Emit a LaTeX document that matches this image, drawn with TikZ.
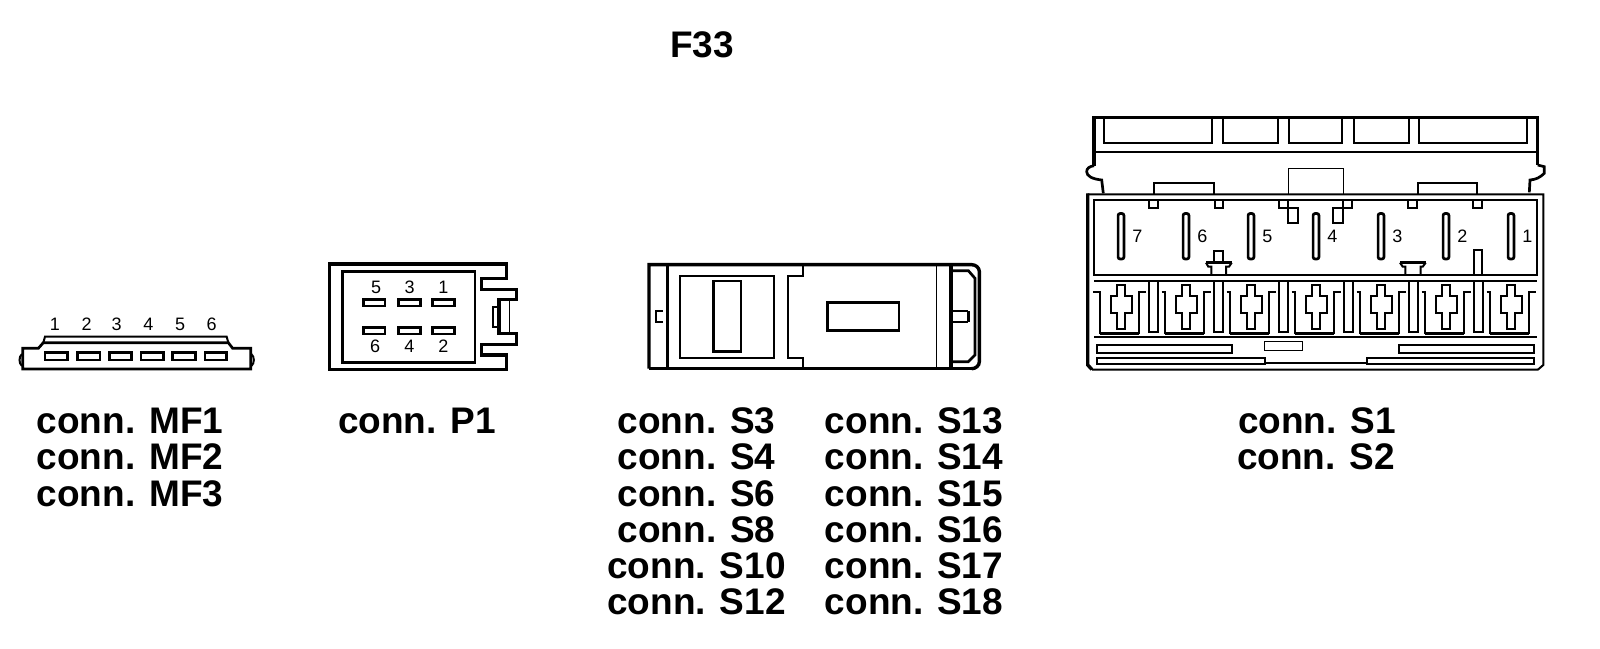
\documentclass[tikz,border=0pt]{standalone}
\usepackage{fontspec}
\setmainfont{Liberation Sans}
\tikzset{
  lonepx/.style={line width=.5pt},
  ltwopx/.style={line width=1pt},
  lthreepx/.style={line width=1.35pt},
  lfourpx/.style={line width=1.7pt},
  label/.style={inner sep=0pt,anchor=base,font=\fontsize{18.5pt}{18.5pt}\selectfont\bfseries},
  pinno/.style={inner sep=0pt,font=\fontsize{9pt}{9pt}\selectfont},
  zoomed/.style={shift={#1},x=.16667pt,y=-.16667pt},
}
\begin{document}
\begin{tikzpicture}[x=.5pt,y=-.5pt,line join=miter]
\useasboundingbox (0,0) rectangle (1600,648);

% ---------- labels ----------
\node[label] (title) at (702,57) {F33};
\node[label] (mfa) at (130,433) {conn. MF1};
\node[label] (mfb) at (130,469.5) {conn. MF2};
\node[label] (mfc) at (130,506) {conn. MF3};
\node[label] (pa) at (417,433) {conn. P1};
\node[label] (sa) at (696.5,433) {conn. S3};
\node[label] (sb) at (696.5,469.5) {conn. S4};
\node[label] (sc) at (696.5,506) {conn. S6};
\node[label] (sd) at (696.5,542) {conn. S8};
\node[label] (se) at (696.5,578.5) {conn. S10};
\node[label] (sf) at (696.5,614.5) {conn. S12};
\node[label] (ta) at (914,433) {conn. S13};
\node[label] (tb) at (914,469.5) {conn. S14};
\node[label] (tc) at (914,506) {conn. S15};
\node[label] (td) at (914,542) {conn. S16};
\node[label] (te) at (914,578.5) {conn. S17};
\node[label] (tf) at (914,614.5) {conn. S18};
\node[label] (ua) at (1317,433) {conn. S1};
\node[label] (ub) at (1316,469.5) {conn. S2};

% ---------- MF connector ----------
\begin{scope}[zoomed={(10,300)}]
  \draw[lthreepx] (38,207) -- (38,145) -- (85,145) -- (100,128) -- (655,128) -- (668,145) -- (722,145) -- (722,207) -- cycle;
  \draw[ltwopx] (100,128) -- (105,110) -- (650,110) -- (655,128);
  \draw[ltwopx] (36,162) .. controls (26,170) and (26,190) .. (36,198);
  \draw[ltwopx] (724,162) .. controls (734,170) and (734,190) .. (724,198);
  \foreach \a/\b in {105/172,202/270,298/365,393/460,488/557,585/650}
    \draw[lthreepx] (\a,158) rectangle (\b,180);
  \foreach \n/\x in {1/135,2/230,3/320,4/415,5/510,6/605}
    \node[pinno] (mf\n) at (\x,72) {\n};
\end{scope}

% ---------- P connector ----------
\begin{scope}[zoomed={(310,250)}]
  \draw[lfourpx] (58,42) -- (590,42) -- (590,85) -- (515,85) -- (515,118) -- (620,118) -- (620,148) -- (567,148) -- (567,250) -- (620,250) -- (620,283) -- (515,283) -- (515,315) -- (590,315) -- (590,358) -- (58,358) -- cycle;
  \draw[lthreepx] (98,64) rectangle (495,337);
  \draw[lonepx] (598,148) -- (598,250);
  \draw[ltwopx] (567,170) -- (548,170) -- (548,230) -- (567,230);
  \foreach \a/\b in {160/225,265/332,367/433}{
    \draw[lthreepx] (\a,148) rectangle (\b,168);
    \draw[lthreepx] (\a,232) rectangle (\b,252);
  }
  \node[pinno] (pfive) at (198,111) {5};
  \node[pinno] (pthree) at (299,111) {3};
  \node[pinno] (pone) at (400,111) {1};
  \node[pinno] (psix) at (195,290) {6};
  \node[pinno] (pfour) at (298,290) {4};
  \node[pinno] (ptwo) at (400,290) {2};
\end{scope}

% ---------- S connector ----------
\begin{scope}[zoomed={(625,250)}]
  \draw[lfourpx] (72,356) -- (72,44) -- (1040,44) .. controls (1052,44) and (1063,53) .. (1063,65) -- (1063,335) .. controls (1063,347) and (1052,356) .. (1040,356);
  \draw[lthreepx] (72,356) -- (1040,356);
  \draw[lfourpx] (127,44) -- (127,356);
  \draw[ltwopx] (113,183) -- (92,183) -- (92,217) -- (113,217);
  \draw[ltwopx] (165,77) rectangle (447,323);
  \draw[lthreepx] (265,93) rectangle (348,305);
  \draw[ltwopx] (535,44) -- (535,77) -- (490,77) -- (490,323) -- (535,323) -- (535,356);
  \draw[lthreepx] (607,158) rectangle (822,241);
  \draw[lonepx] (934,44) -- (934,356);
  \draw[lfourpx] (978,44) -- (978,356);
  \draw[lthreepx] (978,62) -- (1030,62) -- (1050,85) -- (1050,315) -- (1030,335) -- (978,335);
  \draw[ltwopx] (978,183) -- (1030,183);
  \draw[ltwopx] (978,217) -- (1030,217);
  \draw[lthreepx] (1030,183) -- (1030,217);
\end{scope}

% ---------- S1/S2 connector ----------
% upper shell
\draw[lfourpx] (1094,165.7) -- (1094,117.7) -- (1537.7,117.7) -- (1537.7,165);
\draw[lthreepx] (1094,165.7) .. controls (1089,166.5) and (1086.7,168.5) .. (1086.7,171.7) .. controls (1086.7,176) and (1092,179) .. (1101.7,180) -- (1103.3,193.3);
\draw[lthreepx] (1537.7,165) -- (1544.3,166.7) -- (1544.3,173.3) .. controls (1540,177.5) and (1536,179.5) .. (1530,180) -- (1529.3,192.3);
\draw[ltwopx] (1094,151.7) -- (1537.7,151.7);
\foreach \a/\b in {1104/1212.3,1222.7/1278.3,1288.7/1342.3,1353.7/1409.3,1418.7/1527}
  \draw[ltwopx] (\a,118) -- (\a,142.7) -- (\b,142.7) -- (\b,118);
\foreach \a/\b in {1154.3/1214,1417.7/1477.3}
  \draw[ltwopx] (\a,194.3) -- (\a,182.7) -- (\b,182.7) -- (\b,194.3);
\draw[lonepx] (1288.3,194.3) -- (1288.3,168.3) -- (1343.3,168.3) -- (1343.3,194.3);
% outer and inner frames
\draw[ltwopx] (1087.7,194.3) -- (1543.3,194.3) -- (1543.3,365) -- (1538,369.5) -- (1092,369.5);
\draw[lfourpx] (1087.7,193.4) -- (1087.7,365) -- (1092,369.5);
\draw[ltwopx] (1094.3,199.7) rectangle (1536.7,275);
\draw[ltwopx] (1094.3,280.7) -- (1536.7,280.7);
\draw[lthreepx] (1094.3,337) -- (1536.7,337);
% tabs under the frame top
\foreach \a/\b in {1149/1158.3,1214.7/1223.3,1407.7/1417,1472.7/1482.3,1279/1288.3,1343.3/1352.3}
  \draw[ltwopx] (\a,199.7) -- (\a,208.3) -- (\b,208.3) -- (\b,199.7);
\draw[ltwopx] (1288.3,199.7) -- (1288.3,222.7) -- (1298.3,222.7) -- (1298.3,208.3) -- (1288.3,208.3);
\draw[ltwopx] (1343.3,199.7) -- (1343.3,222.7) -- (1333.3,222.7) -- (1333.3,208.3) -- (1343.3,208.3);
% blades and pin numbers
\foreach \n/\x in {7/1121,6/1186,5/1251,4/1316,3/1381,2/1446,1/1511}{
  \draw[lthreepx,rounded corners=1pt] (\x-2.9,213.5) rectangle (\x+2.9,259);
  \node[pinno] (spin\n) at (\x+16.3,236) {\n};
}
% pockets with cross-shaped openings
\foreach \x in {1121,1186,1251,1316,1381,1446,1511}{
  \draw[ltwopx] (\x-24.3,291.7) -- (\x-21,291.7) -- (\x-21,333.3) -- (\x+18,333.3) -- (\x+18,291.7) -- (\x+24.7,291.7);
  \draw[lthreepx] (\x-21,333.3) -- (\x+18,333.3);
  \draw[ltwopx] (\x-3.7,285) -- (\x+3.7,285) -- (\x+3.7,296) -- (\x+10.5,296) -- (\x+10.5,313.3) -- (\x+3.7,313.3) -- (\x+3.7,329) -- (\x-3.7,329) -- (\x-3.7,313.3) -- (\x-10.5,313.3) -- (\x-10.5,296) -- (\x-3.7,296) -- cycle;
}
\draw[ltwopx] (1093.3,291.7) -- (1100,291.7);
% spacers between the pockets
\foreach \a/\b in {1149/1158.3,1214.3/1223.3,1279/1288.3,1344.3/1353.3,1409/1418.3,1474/1482.7}
  \draw[ltwopx] (\a,280.7) -- (\a,332.3) -- (\b,332.3) -- (\b,280.7);
% posts standing on the inner frame
\draw[ltwopx] (1214.3,250.7) rectangle (1223.3,262.7);
\draw[ltwopx] (1211.3,275) -- (1211.3,266.7) -- (1208.3,266.7) -- (1206,262.7);
\draw[ltwopx] (1226,275) -- (1226,266.7) -- (1229,266.7) -- (1231.7,262.7);
\draw[lthreepx] (1206,262.7) -- (1231.7,262.7);
\draw[ltwopx] (1405.3,275) -- (1405.3,266.7) -- (1402.7,266.7) -- (1400,262.7);
\draw[ltwopx] (1420.7,275) -- (1420.7,266.7) -- (1422.7,266.7) -- (1425.7,262.7);
\draw[lthreepx] (1400,262.7) -- (1425.7,262.7);
\draw[ltwopx] (1474,275) -- (1474,250) -- (1481.7,250) -- (1481.7,275);
% bars along the bottom
\draw[ltwopx] (1096.7,344.7) rectangle (1232.3,352.7);
\draw[ltwopx] (1096.7,358.3) rectangle (1265,363.7);
\draw[lonepx] (1264.3,341.7) rectangle (1302.7,350.3);
\draw[ltwopx] (1265,363) -- (1366.7,363);
\draw[ltwopx] (1366.7,358.3) rectangle (1534.3,363.7);
\draw[ltwopx] (1399,344.7) rectangle (1534.3,352.7);
\end{tikzpicture}
\end{document}
